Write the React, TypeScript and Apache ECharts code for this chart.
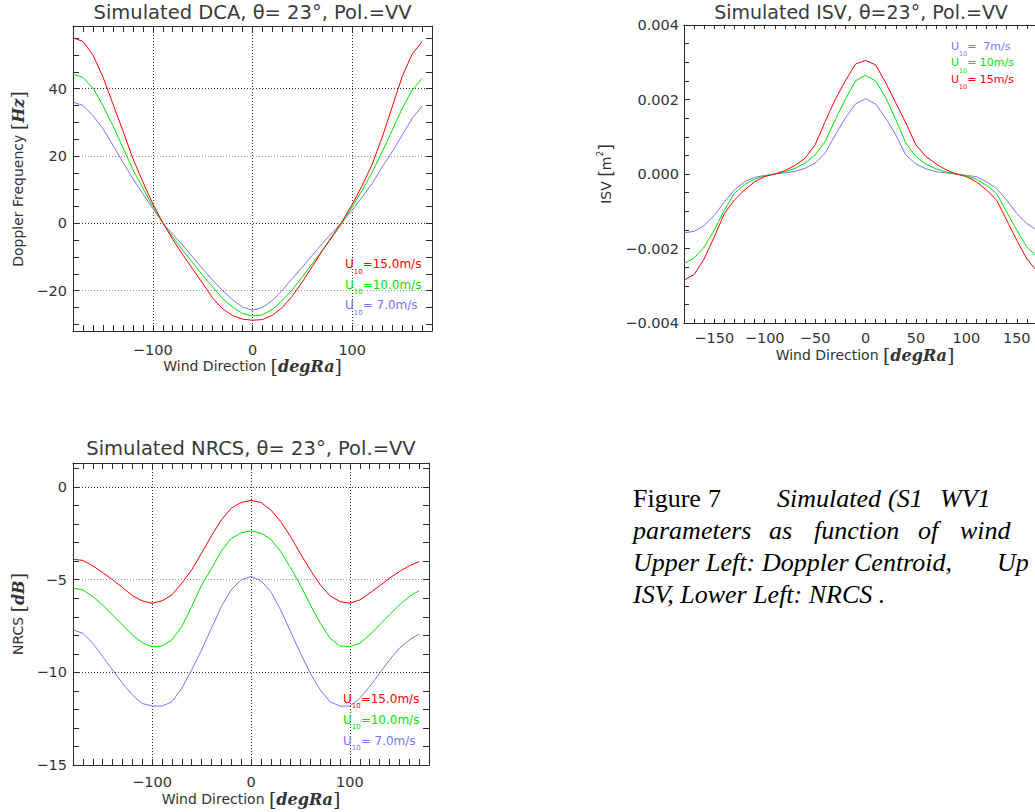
import React, { useEffect, useRef } from 'react';
import * as echarts from 'echarts';

// ---------- data ----------
const angles = [-180, -170, -160, -150, -140, -130, -120, -110, -100, -90, -80, -70, -60, -50, -40, -30, -20, -10, 0, 10, 20, 30, 40, 50, 60, 70, 80, 90, 100, 110, 120, 130, 140, 150, 160, 170];

const dcaU15 = [55.1, 54.0, 50.0, 43.5, 35.5, 27.5, 19.3, 12.3, 5.8, 0.2, -4.8, -9.3, -13.6, -17.8, -22.2, -25.4, -27.4, -28.5, -28.8, -28.6, -27.3, -25.0, -21.6, -17.4, -12.8, -8.2, -3.8, 0.6, 5.6, 11.2, 17.5, 25.5, 34.5, 43.5, 50.2, 53.9];
const dcaU10 = [44.3, 43.3, 40.2, 35.0, 29.0, 22.5, 16.0, 10.5, 5.0, 0.0, -4.1, -8.0, -11.7, -15.4, -18.9, -22.4, -24.9, -26.8, -27.5, -27.2, -25.6, -22.9, -19.7, -15.9, -12.0, -8.0, -4.1, 0.1, 4.9, 9.8, 15.2, 21.2, 27.6, 34.0, 39.5, 43.0];
const dcaU7 = [36.0, 35.0, 32.0, 28.1, 23.2, 18.2, 13.3, 8.8, 4.4, 0.1, -3.3, -6.5, -10.0, -13.5, -16.9, -20.0, -22.7, -24.9, -25.8, -25.0, -22.9, -19.9, -16.4, -13.0, -9.5, -6.0, -2.8, 0.4, 3.9, 7.8, 11.8, 16.7, 21.2, 26.1, 31.1, 34.8];

const isvU7 = [-0.00158, -0.00154, -0.00138, -0.00111, -0.00075, -0.00043, -0.00021, -0.00009, -0.00004, 0.0, 0.00003, 0.00007, 0.00015, 0.00029, 0.00056, 0.00105, 0.0015, 0.00188, 0.00202, 0.00188, 0.0015, 0.00105, 0.00051, 0.00027, 0.00014, 0.00006, 0.00003, 0.0, -0.00004, -0.00007, -0.00021, -0.00039, -0.0007, -0.00106, -0.00133, -0.00151];
const isvU10 = [-0.0024, -0.00226, -0.00196, -0.00151, -0.00097, -0.00052, -0.00028, -0.00014, -0.00005, 0.0, 0.00006, 0.00015, 0.00029, 0.00051, 0.00087, 0.00146, 0.002, 0.0025, 0.00265, 0.0025, 0.00205, 0.00146, 0.00083, 0.00047, 0.00026, 0.00014, 0.00005, 0.0, -0.00005, -0.00014, -0.0003, -0.00052, -0.00102, -0.00151, -0.00196, -0.00222];
const isvU15 = [-0.00285, -0.0027, -0.00228, -0.00169, -0.00106, -0.0007, -0.00043, -0.00021, -0.00007, 0.0, 0.00009, 0.00023, 0.00042, 0.00078, 0.00141, 0.002, 0.0025, 0.00295, 0.00305, 0.00293, 0.00245, 0.00191, 0.00137, 0.00078, 0.00047, 0.00027, 0.00011, 0.0, -0.00007, -0.00021, -0.00043, -0.0007, -0.00124, -0.00178, -0.00228, -0.00261];

const nrcsU15 = [-3.89, -3.96, -4.25, -4.61, -5.0, -5.42, -5.86, -6.14, -6.27, -6.14, -5.82, -5.19, -4.47, -3.57, -2.63, -1.77, -1.14, -0.83, -0.72, -0.83, -1.23, -1.86, -2.67, -3.6, -4.47, -5.28, -5.87, -6.18, -6.27, -6.09, -5.73, -5.33, -4.92, -4.56, -4.25, -4.02];
const nrcsU10 = [-5.46, -5.55, -5.91, -6.36, -6.9, -7.44, -7.98, -8.4, -8.61, -8.58, -8.25, -7.53, -6.45, -5.3, -4.4, -3.45, -2.78, -2.47, -2.36, -2.49, -2.81, -3.48, -4.35, -5.3, -6.36, -7.35, -8.16, -8.58, -8.61, -8.43, -7.98, -7.44, -6.9, -6.36, -5.91, -5.59];
const nrcsU7 = [-7.71, -7.89, -8.43, -9.15, -9.87, -10.59, -11.22, -11.68, -11.82, -11.82, -11.59, -10.86, -9.87, -8.79, -7.62, -6.45, -5.55, -5.0, -4.83, -5.05, -5.64, -6.63, -7.8, -8.97, -10.05, -10.95, -11.59, -11.82, -11.82, -11.4, -10.77, -10.05, -9.33, -8.7, -8.25, -7.93];

// legend / label texts
const dcaLegend = ['=15.0m/s', '=10.0m/s', '= 7.0m/s'];
const isvLegend = ['=\u00a0\u00a07m/s', '=\u00a010m/s', '=\u00a015m/s'];
const nrcsLegend = ['=15.0m/s', '=10.0m/s', '= 7.0m/s'];

// axis ranges
const windRange = [-180, 180];
const dcaRange = [-32, 58.6];
const isvRange = [-0.004, 0.004];
const nrcsRange = [-15, 1.3];

// ---------- style ----------
const RED = '#ff0000';
const GREEN = '#00e600';
const BLUE = '#7474ff';
const AX = '#2a2a2a';
const TXT = '#333333';
const SANS = '"DejaVu Sans", sans-serif';
const SERIF = '"DejaVu Serif", serif';
const TIMES = '"Liberation Serif", "Times New Roman", serif';
const TICK_FS = 14.5;

const minus = (s: string) => s.replace('-', '\u2212');
const fmtInt = (v: number) => minus(String(Math.round(v)));
const fmt3 = (v: number) => (Math.abs(v) < 1e-12 ? '0.000' : minus(v.toFixed(3)));

function xPair(grid: number, step: number, minorSplit: number, tickLen: number, minorLen: number, margin: number, gridLines: boolean) {
  const common: any = {
    gridIndex: grid, type: 'value', min: windRange[0], max: windRange[1],
    minInterval: step, maxInterval: step,
    axisLine: { show: true, onZero: false, lineStyle: { color: AX, width: 1 } },
    axisTick: { show: true, inside: true, length: tickLen, lineStyle: { color: AX, width: 1 } },
    minorTick: { show: true, splitNumber: minorSplit, length: minorLen, lineStyle: { color: AX, width: 1 } },
    minorSplitLine: { show: false },
  };
  return [
    {
      ...common, position: 'bottom',
      axisLabel: { show: true, margin, fontFamily: SANS, fontSize: TICK_FS, color: TXT, showMinLabel: false, showMaxLabel: false, formatter: fmtInt },
      splitLine: { show: gridLines, showMinLine: false, showMaxLine: false, lineStyle: { type: [1, 2], color: ['#333'], width: 1 } },
    },
    { ...common, position: 'top', axisLabel: { show: false }, splitLine: { show: false } },
  ];
}

function yPair(grid: number, range: number[], step: number, minorSplit: number, tickLen: number, minorLen: number, margin: number, gridLines: boolean, colors: string[], fmt: any, showMin: boolean, showMax: boolean) {
  const common: any = {
    gridIndex: grid, type: 'value', min: range[0], max: range[1],
    minInterval: step, maxInterval: step,
    axisLine: { show: true, onZero: false, lineStyle: { color: AX, width: 1 } },
    axisTick: { show: true, inside: true, length: tickLen, lineStyle: { color: AX, width: 1 } },
    minorTick: { show: true, splitNumber: minorSplit, length: minorLen, lineStyle: { color: AX, width: 1 } },
    minorSplitLine: { show: false },
  };
  return [
    {
      ...common, position: 'left',
      axisLabel: { show: true, margin, fontFamily: SANS, fontSize: TICK_FS, color: TXT, showMinLabel: showMin, showMaxLabel: showMax, formatter: fmt },
      splitLine: { show: gridLines, showMinLine: false, showMaxLine: false, lineStyle: { type: [1, 2], color: colors, width: 1 } },
    },
    { ...common, position: 'right', axisLabel: { show: false }, splitLine: { show: false } },
  ];
}

function line(name: string, xi: number, yi: number, vals: number[], color: string) {
  return {
    name, type: 'line', xAxisIndex: xi, yAxisIndex: yi,
    data: angles.map((a, i) => [a, vals[i]]),
    showSymbol: false, symbol: 'none', silent: true,
    lineStyle: { color, width: 1 }, itemStyle: { color },
    clip: true,
  };
}

function txt(x: number, y: number, text: string, opts: any = {}) {
  const align = opts.align || 'center';
  return {
    type: 'text', x, y, rotation: opts.rotation || 0, silent: true, z: 100,
    style: {
      text, fill: opts.fill || TXT,
      font: opts.font || `14px ${SANS}`,
      align, textAlign: align, verticalAlign: 'middle', textVerticalAlign: 'middle',
      rich: opts.rich,
    },
  };
}

function richAxisTitle(x: number, y: number, plain: string, math: string, rotation: number) {
  return txt(x, y, `{a|${plain}}{b|[}{c|${math}}{b|]}`, {
    rotation,
    rich: {
      a: { fontFamily: SANS, fontSize: 14, fill: TXT, color: TXT, lineHeight: 22 },
      b: { fontFamily: SERIF, fontSize: 19, fill: TXT, color: TXT, lineHeight: 22 },
      c: { fontFamily: SERIF, fontStyle: 'italic', fontWeight: 'bold', fontSize: 16, fill: TXT, color: TXT, lineHeight: 22 },
    },
  });
}

function legendText(x: number, y: number, rest: string, color: string, fs = 12) {
  return txt(x, y, `{u|U}{s|10}{t|${rest}}`, {
    align: 'left',
    rich: {
      u: { fontFamily: SANS, fontSize: fs, fill: color, color, lineHeight: 22 },
      s: { fontFamily: SANS, fontSize: fs * 0.58, fill: color, color, lineHeight: 8, verticalAlign: 'bottom' },
      t: { fontFamily: SANS, fontSize: fs, fill: color, color, lineHeight: 22 },
    },
  });
}

const captionWords: [string, number, number, boolean][] = [
  ['Figure', 633, 0, false], ['7', 708, 0, false], ['Simulated', 777, 0, true], ['(S1', 888, 0, true], ['WV1', 940, 0, true],
  ['parameters', 633, 1, true], ['as', 769, 1, true], ['function', 814, 1, true], ['of', 918, 1, true], ['wind', 960, 1, true],
  ['Upper', 633, 2, true], ['Left:', 706, 2, true], ['Doppler', 762, 2, true], ['Centroid,', 854, 2, true], ['Up', 997, 2, true],
  ['ISV, Lower Left: NRCS .', 633, 3, true],
];
const captionLineY = [498, 530, 562, 594];

export default function App() {
  const ref = useRef<HTMLDivElement>(null);
  useEffect(() => {
    if (!ref.current) return;
    const chart = echarts.init(ref.current, null, { renderer: 'svg' });
    const graphic: any[] = [
      txt(252.6, 12, 'Simulated DCA, \u03b8= 23\u00b0, Pol.=VV', { font: `19.5px ${SANS}`, fill: '#3a3a3a' }),
      txt(861, 12, 'Simulated ISV, \u03b8=23\u00b0, Pol.=VV', { font: `19px ${SANS}`, fill: '#3a3a3a' }),
      txt(251, 448, 'Simulated NRCS, \u03b8= 23\u00b0, Pol.=VV', { font: `19.5px ${SANS}`, fill: '#3a3a3a' }),
      richAxisTitle(18, 179, 'Doppler Frequency ', 'Hz', Math.PI / 2),
      richAxisTitle(18, 614, 'NRCS ', 'dB', Math.PI / 2),
      txt(606, 174, '{a|ISV }{b|[}{c|m}{s|2}{b|]}', {
        rotation: Math.PI / 2,
        rich: {
          a: { fontFamily: SANS, fontSize: 14, fill: TXT, color: TXT, lineHeight: 22 },
          b: { fontFamily: SANS, fontSize: 17, fill: TXT, color: TXT, lineHeight: 22 },
          c: { fontFamily: SANS, fontSize: 14, fill: TXT, color: TXT, lineHeight: 22 },
          s: { fontFamily: SANS, fontSize: 9, fill: TXT, color: TXT, lineHeight: 12, verticalAlign: 'top' },
        },
      }),
      richAxisTitle(252.6, 366, 'Wind Direction ', 'degRa', 0),
      richAxisTitle(865, 355, 'Wind Direction ', 'degRa', 0),
      richAxisTitle(251, 799, 'Wind Direction ', 'degRa', 0),
      legendText(345, 264, dcaLegend[0], RED),
      legendText(345, 284.5, dcaLegend[1], GREEN),
      legendText(345, 305, dcaLegend[2], BLUE),
      legendText(951, 46, isvLegend[0], BLUE, 11),
      legendText(951, 62.5, isvLegend[1], GREEN, 11),
      legendText(951, 79, isvLegend[2], RED, 11),
      legendText(343, 698.5, nrcsLegend[0], RED),
      legendText(343, 719.5, nrcsLegend[1], GREEN),
      legendText(343, 740.5, nrcsLegend[2], BLUE),
      ...captionWords.map(([w, x, li, it]) => txt(x, captionLineY[li], w, {
        align: 'left', fill: '#000', font: `${it ? 'italic ' : ''}26px ${TIMES}`,
      })),
    ];

    chart.setOption({
      animation: false,
      backgroundColor: '#ffffff',
      grid: [
        { left: 73, top: 26, width: 359, height: 305, containLabel: false, outerBoundsMode: 'none' },
        { left: 684, top: 25, width: 363, height: 298, containLabel: false, outerBoundsMode: 'none' },
        { left: 73, top: 463, width: 356, height: 302, containLabel: false, outerBoundsMode: 'none' },
      ],
      xAxis: [
        ...xPair(0, 100, 10, 6, 6, 11, true),
        ...xPair(1, 50, 5, 4, 4, 7, false),
        ...xPair(2, 100, 10, 6, 6, 9, true),
      ],
      yAxis: [
        ...yPair(0, dcaRange, 20, 4, 6, 6, 6, true, ['#999', '#333'], fmtInt, false, false),
        ...yPair(1, isvRange, 0.002, 4, 6, 5, 5, false, ['#333'], fmt3, true, true),
        ...yPair(2, nrcsRange, 5, 5, 6, 6, 6, true, ['#333', '#999'], fmtInt, true, false),
      ],
      series: [
        line('DCA 7', 0, 0, dcaU7, BLUE),
        line('DCA 10', 0, 0, dcaU10, GREEN),
        line('DCA 15', 0, 0, dcaU15, RED),
        line('ISV 7', 2, 2, isvU7, BLUE),
        line('ISV 10', 2, 2, isvU10, GREEN),
        line('ISV 15', 2, 2, isvU15, RED),
        line('NRCS 7', 4, 4, nrcsU7, BLUE),
        line('NRCS 10', 4, 4, nrcsU10, GREEN),
        line('NRCS 15', 4, 4, nrcsU15, RED),
      ],
      graphic,
    });
    return () => chart.dispose();
  }, []);
  return <div ref={ref} style={{ position: 'absolute', left: 0, top: 0, width: 1035, height: 812, background: '#fff' }} />;
}
